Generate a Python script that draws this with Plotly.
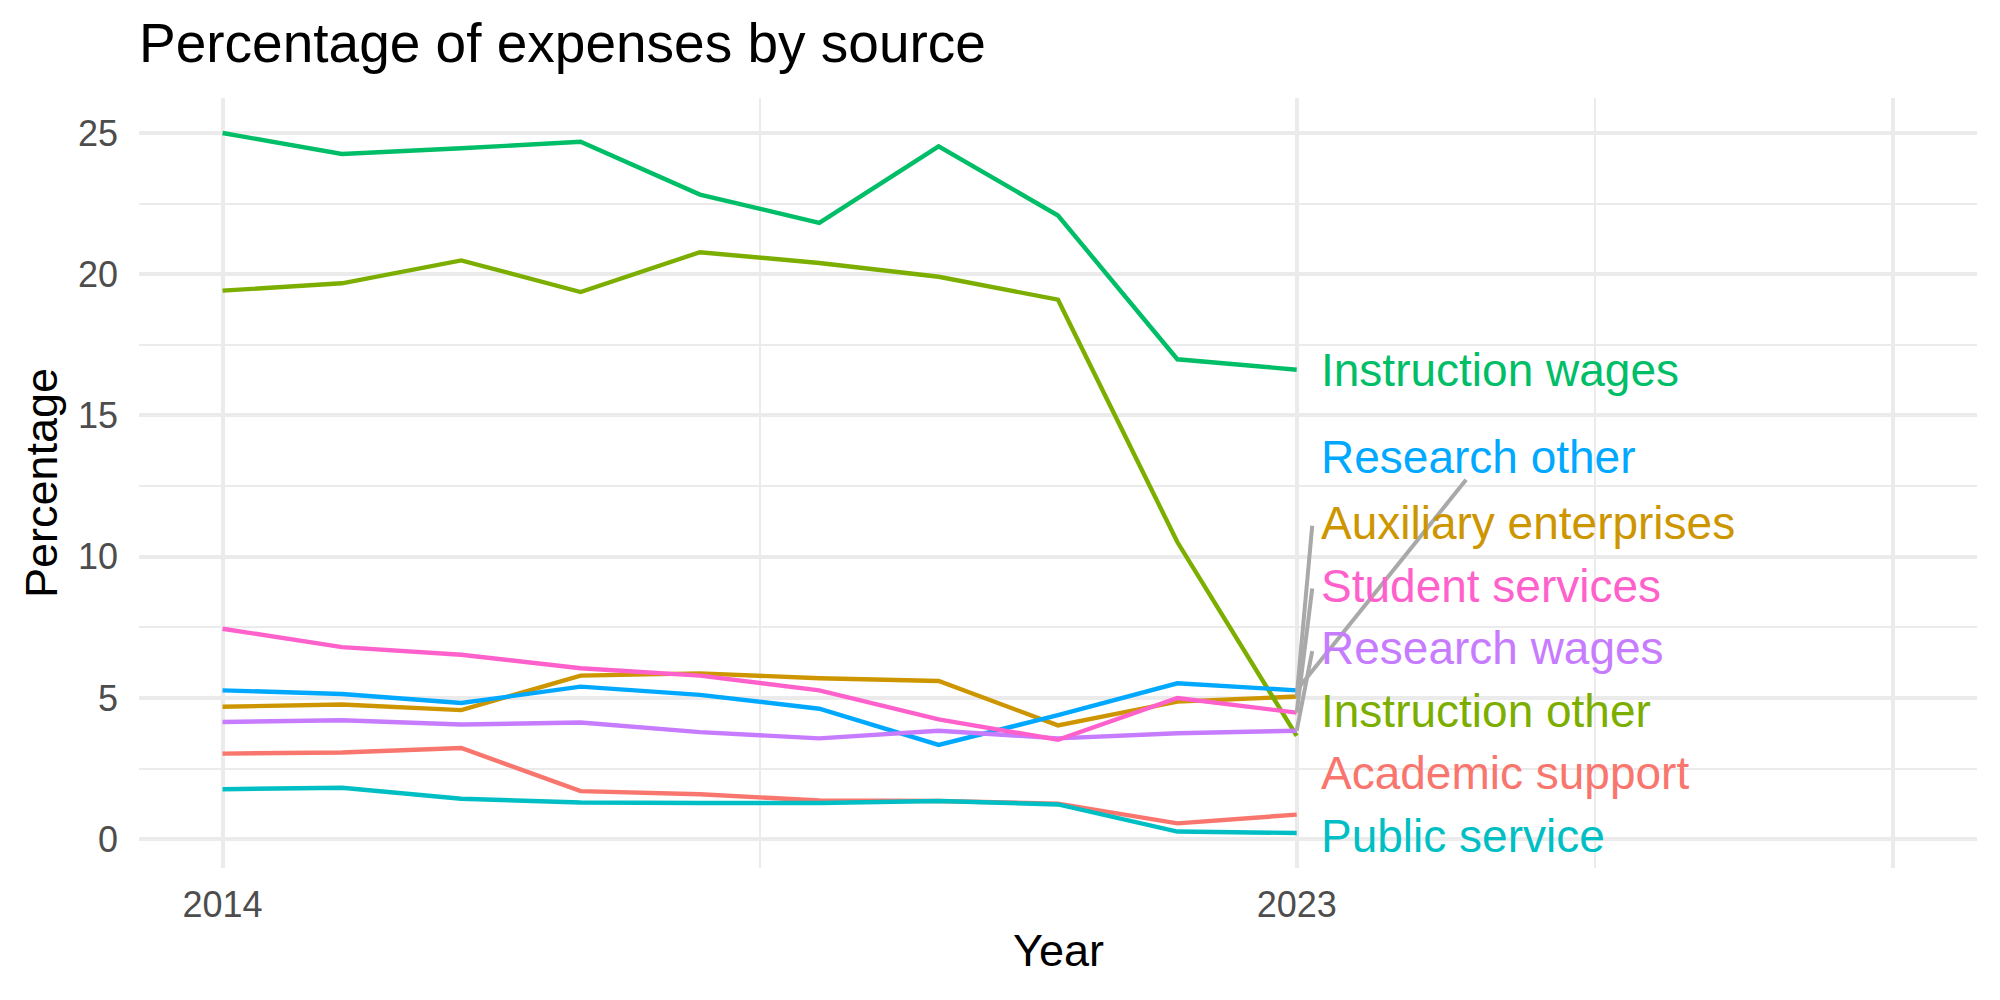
import plotly.graph_objects as go

# ---------------- data ----------------
years = [2014, 2015, 2016, 2017, 2018, 2019, 2020, 2021, 2022, 2023]

categories = [
    "Academic support",
    "Auxiliary enterprises",
    "Instruction other",
    "Instruction wages",
    "Public service",
    "Research other",
    "Research wages",
    "Student services",
]

academic_support = [3.03, 3.07, 3.23, 1.70, 1.59, 1.37, 1.35, 1.26, 0.56, 0.87]
auxiliary_enterprises = [4.69, 4.77, 4.57, 5.79, 5.87, 5.70, 5.60, 4.03, 4.87, 5.05]
instruction_other = [19.42, 19.68, 20.49, 19.37, 20.78, 20.40, 19.91, 19.10, 10.52, 3.66]
instruction_wages = [25.00, 24.26, 24.46, 24.69, 22.82, 21.82, 24.53, 22.08, 16.99, 16.62]
public_service = [1.77, 1.82, 1.43, 1.30, 1.28, 1.28, 1.35, 1.23, 0.27, 0.22]
research_other = [5.27, 5.14, 4.82, 5.40, 5.11, 4.62, 3.34, 4.39, 5.52, 5.27]
research_wages = [4.15, 4.21, 4.06, 4.13, 3.79, 3.57, 3.84, 3.57, 3.75, 3.84]
student_services = [7.45, 6.80, 6.53, 6.05, 5.79, 5.27, 4.24, 3.52, 5.00, 4.48]

x_tick_vals = [2014, 2023, 2028]
x_tick_text = ["2014", "2023", ""]
x_minor_vals = [2018.5, 2025.5]
y_tick_vals = [0, 5, 10, 15, 20, 25]
y_tick_text = ["0", "5", "10", "15", "20", "25"]
y_minor_vals = [2.5, 7.5, 12.5, 17.5, 22.5]

series = {
    "Academic support": academic_support,
    "Auxiliary enterprises": auxiliary_enterprises,
    "Instruction other": instruction_other,
    "Instruction wages": instruction_wages,
    "Public service": public_service,
    "Research other": research_other,
    "Research wages": research_wages,
    "Student services": student_services,
}

# ---------------- styles ----------------
colors = {
    "Academic support": "#F8766D",
    "Auxiliary enterprises": "#CD9600",
    "Instruction other": "#7CAE00",
    "Instruction wages": "#00BE67",
    "Public service": "#00BFC4",
    "Research other": "#00A9FF",
    "Research wages": "#C77CFF",
    "Student services": "#FF61CC",
}
FONT = "Liberation Sans, Arial, Helvetica, sans-serif"
GRID = "#EBEBEB"
LINE_W = 4.4
LABEL_SIZE = 46
PX_PER_YEAR = 119.35

fig = go.Figure()

for name in categories:
    fig.add_trace(go.Scatter(
        x=years, y=series[name], mode="lines",
        line=dict(color=colors[name], width=LINE_W),
        name=name, showlegend=False, hoverinfo="skip",
    ))

# ---------------- repelled end labels (simple 1-D repel) ----------------
last_x = years[-1]
label_x = last_x + 0.19
gap = 2.217
half_box = 0.8
cluster_shift = -0.11   # small downward balance of the stacked group
ends = sorted(((series[n][-1], n) for n in categories))
label_y = {}
pushed = {}
prev = None
for v, n in ends:
    p = v if prev is None else max(v, prev + gap)
    label_y[n] = p
    prev = p
# labels that are part of a touching stack get the balance shift
stack = []
for i, (v, n) in enumerate(ends):
    below = i > 0 and abs(label_y[n] - label_y[ends[i - 1][1]] - gap) < 1e-9
    above = i < len(ends) - 1 and abs(label_y[ends[i + 1][1]] - label_y[n] - gap) < 1e-9
    if below or above:
        label_y[n] += cluster_shift

connect_bottom = {"Research other"}

for n in categories:
    v = series[n][-1]
    ly = label_y[n]
    if ly - v - half_box > 1.0:
        if n in connect_bottom:
            text_w = len(n) * 0.5 * LABEL_SIZE / PX_PER_YEAR
            ex, ey = label_x + text_w / 2 - 0.12, ly - half_box
        else:
            ex, ey = label_x - 0.06, ly - 0.1
        fig.add_trace(go.Scatter(
            x=[last_x, ex], y=[v, ey], mode="lines",
            line=dict(color="#A9A9A9", width=4.0),
            showlegend=False, hoverinfo="skip",
        ))

for n in categories:
    fig.add_annotation(
        x=label_x, y=label_y[n], xref="x", yref="y",
        text=n, showarrow=False, xanchor="left", yanchor="middle",
        font=dict(family=FONT, size=LABEL_SIZE, color=colors[n]),
    )

# axis titles
fig.add_annotation(
    x=0.5, y=-0.107, xref="paper", yref="paper", text="Year",
    showarrow=False, xanchor="center", yanchor="middle",
    font=dict(family=FONT, size=45, color="black"),
)
fig.add_annotation(
    x=-0.0533, y=0.5, xref="paper", yref="paper", text="Percentage",
    showarrow=False, xanchor="center", yanchor="middle", textangle=-90,
    font=dict(family=FONT, size=45, color="black"),
)

fig.update_layout(
    width=2000, height=1000,
    margin=dict(l=139, r=23, t=98, b=132),
    paper_bgcolor="white", plot_bgcolor="white",
    showlegend=False,
    title=dict(
        text="Percentage of expenses by source",
        x=0, xref="paper", xanchor="left",
        y=0.957, yref="container", yanchor="middle",
        font=dict(family=FONT, size=55, color="black"),
    ),
    xaxis=dict(
        range=[2013.3, 2028.7], tickmode="array",
        tickvals=x_tick_vals, ticktext=x_tick_text,
        showgrid=True, gridcolor=GRID, gridwidth=4.2,
        zeroline=False, showline=False, ticks="",
        ticklabelstandoff=12,
        tickfont=dict(family=FONT, size=36, color="#4D4D4D"),
        minor=dict(tickmode="array", tickvals=x_minor_vals, showgrid=True,
                   gridcolor=GRID, gridwidth=2.1, ticks=""),
    ),
    yaxis=dict(
        range=[-1.02, 26.24], tickmode="array",
        tickvals=y_tick_vals, ticktext=y_tick_text,
        showgrid=True, gridcolor=GRID, gridwidth=4.2,
        zeroline=False, showline=False, ticks="",
        ticklabelstandoff=20,
        tickfont=dict(family=FONT, size=36, color="#4D4D4D"),
        minor=dict(tickmode="array", tickvals=y_minor_vals, showgrid=True,
                   gridcolor=GRID, gridwidth=2.1, ticks=""),
    ),
)

fig.write_html("out.html")
